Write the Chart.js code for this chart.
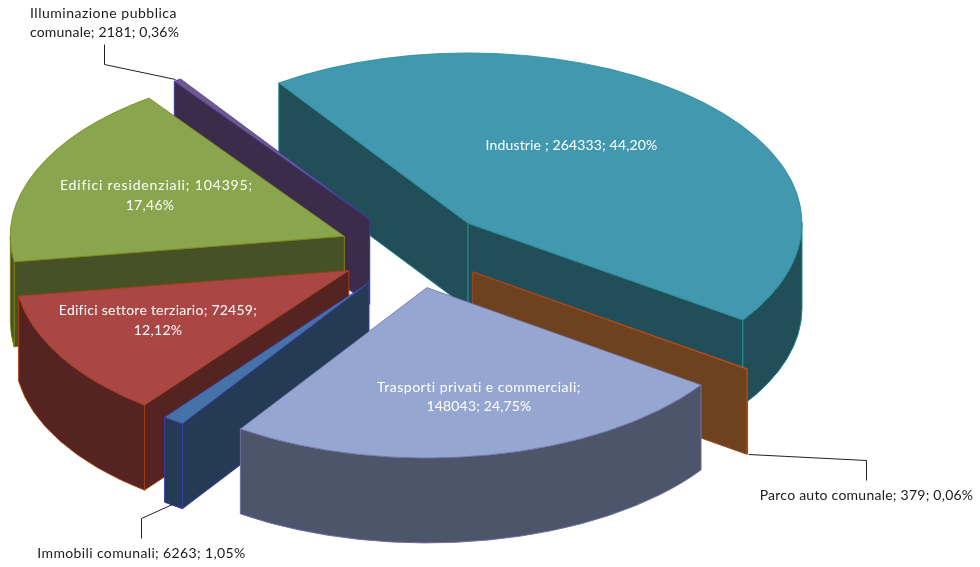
<!DOCTYPE html>
<html lang="it">
<head>
<meta charset="utf-8">
<title>Consumi per settore</title>
<script src="https://cdn.jsdelivr.net/npm/chart.js@4/dist/chart.umd.min.js"></script>
<style>
  html, body { margin: 0; padding: 0; background: #fff; }
  canvas { display: block; }
</style>
</head>
<body>
<canvas id="pie3d" width="980" height="567"></canvas>
<script>
const categories = ['Industrie', 'Parco auto comunale', 'Trasporti privati e commerciali', 'Immobili comunali', 'Edifici settore terziario', 'Edifici residenziali', 'Illuminazione pubblica comunale'];
const values = [264333, 379, 148043, 6263, 72459, 104395, 2181];

const topColors = ['#4198AF', '#DB843D', '#95A7D0', '#4572A7', '#AA4643', '#89A54E', '#71588F'];
const wallColors = ['#224E5A', '#6E421E', '#4C556A', '#243A55', '#552322', '#465226', '#3A2C4A'];
const edgeColors = ['#1F8A90', '#A5461A', '#6F6FA8', '#3C3CAA', '#A33D10', '#7C8210', '#3A3A9A'];

const labelLines = [
    ['Industrie ; 264333; 44,20%'],
    ['Parco auto comunale; 379; 0,06%'],
    ['Trasporti privati e commerciali;', '148043; 24,75%'],
    ['Immobili comunali; 6263; 1,05%'],
    ['Edifici settore terziario; 72459;', '12,12%'],
    ['Edifici residenziali; 104395;', '17,46%'],
    ['Illuminazione pubblica', 'comunale; 2181; 0,36%']
];

// back to front, slices are painted over each other in this order
const drawOrder = [0, 6, 5, 4, 1, 3, 2];

const TILT = 0.51;      // vertical squash of the pie
const DEPTH = 85;       // height of the extruded walls
const RADIUS = 334;

// distance of each slice from the centre
const explode = [77, 72, 73, 76, 75, 75, 76];

// centre x of each text line, baselines and tracking
const labelPlace = [
    { x: [571.5], y: [150], spacing: [0.15], color: '#fff' },
    { x: [866.5], y: [500], spacing: [0.24], color: '#1a1a1a' },
    { x: [479, 479], y: [392, 411], spacing: [0.5, 0.15], color: '#fff' },
    { x: [141.5], y: [558], spacing: [0.37], color: '#1a1a1a' },
    { x: [158, 158], y: [315, 335], spacing: [0.25, 0.3], color: '#fff' },
    { x: [156.5, 150], y: [190, 210], spacing: [0.85, 0.3], color: '#fff' },
    { x: [103.5, 104.5], y: [18, 37], spacing: [0.5, 0.2], color: '#1a1a1a' }
];

const leaderLines = [
    null,
    [[748, 454], [866, 460], [866, 480]],
    null,
    [[172, 504], [141, 518], [141, 538]],
    null,
    null,
    [[104, 44], [104, 64], [175, 79]]
];

function sliceGeometry(arc, i) {
    const mid = (arc.startAngle + arc.endAngle) / 2;
    return {
        cx: arc.x + Math.cos(mid) * explode[i],
        cy: arc.y + Math.sin(mid) * explode[i] * TILT,
        r: arc.outerRadius,
        start: arc.startAngle,
        end: arc.endAngle
    };
}

function radialWall(ctx, g, angle, fill, edge) {
    const rimX = g.cx + Math.cos(angle) * g.r;
    const rimY = g.cy + Math.sin(angle) * g.r * TILT;
    ctx.beginPath();
    ctx.moveTo(g.cx, g.cy);
    ctx.lineTo(rimX, rimY);
    ctx.lineTo(rimX, rimY + DEPTH);
    ctx.lineTo(g.cx, g.cy + DEPTH);
    ctx.closePath();
    ctx.fillStyle = fill;
    ctx.fill();
    ctx.strokeStyle = edge;
    ctx.stroke();
}

function outerWall(ctx, g, fill, edge) {
    // only the part of the rim that faces the viewer, canvas angles 0..PI
    const from = Math.max(g.start, 0);
    const to = Math.min(g.end, Math.PI);
    if (to <= from) return;
    ctx.beginPath();
    ctx.ellipse(g.cx, g.cy, g.r, g.r * TILT, 0, from, to);
    ctx.ellipse(g.cx, g.cy + DEPTH, g.r, g.r * TILT, 0, to, from, true);
    ctx.closePath();
    ctx.fillStyle = fill;
    ctx.fill();
    ctx.strokeStyle = edge;
    ctx.stroke();
}

const pie3dPlugin = {
    id: 'pie3d',
    beforeDatasetsDraw(chart) {
        const ctx = chart.ctx;
        const arcs = chart.getDatasetMeta(0).data;
        ctx.save();
        ctx.lineWidth = 1;
        ctx.lineJoin = 'round';
        drawOrder.forEach(function (i) {
            const arc = arcs[i];
            const g = sliceGeometry(arc, i);
            if (Math.cos(g.start) < 0) radialWall(ctx, g, g.start, wallColors[i], edgeColors[i]);
            if (Math.cos(g.end) > 0) radialWall(ctx, g, g.end, wallColors[i], edgeColors[i]);
            outerWall(ctx, g, wallColors[i], edgeColors[i]);

            // top face is the library's own arc, squashed and moved out
            ctx.save();
            ctx.translate(g.cx, g.cy);
            ctx.scale(1, TILT);
            ctx.translate(-arc.x, -arc.y);
            arc.draw(ctx);
            ctx.restore();
        });
        ctx.restore();
        return false;
    },
    afterDraw(chart) {
        const ctx = chart.ctx;
        ctx.save();
        ctx.lineWidth = 1;
        ctx.strokeStyle = '#222';
        leaderLines.forEach(function (line) {
            if (!line) return;
            ctx.beginPath();
            line.forEach(function (p, n) {
                if (n === 0) ctx.moveTo(p[0] + 0.5, p[1] + 0.5);
                else ctx.lineTo(p[0] + 0.5, p[1] + 0.5);
            });
            ctx.stroke();
        });
        ctx.font = '14px Lato';
        ctx.textAlign = 'center';
        ctx.textBaseline = 'alphabetic';
        labelLines.forEach(function (lines, i) {
            const place = labelPlace[i];
            ctx.fillStyle = place.color;
            lines.forEach(function (text, n) {
                ctx.letterSpacing = place.spacing[n] + 'px';
                ctx.fillText(text, place.x[n], place.y[n]);
            });
        });
        ctx.restore();
    }
};

new Chart(document.getElementById('pie3d'), {
    type: 'pie',
    data: {
        labels: categories,
        datasets: [{
            data: values,
            backgroundColor: topColors,
            borderColor: edgeColors,
            borderWidth: 1,
            radius: RADIUS,
            rotation: -34.5
        }]
    },
    options: {
        responsive: false,
        animation: false,
        events: [],
        layout: { padding: { right: 153, bottom: 65 } },
        plugins: {
            legend: { display: false },
            tooltip: { enabled: false }
        }
    },
    plugins: [pie3dPlugin]
});
</script>
</body>
</html>
